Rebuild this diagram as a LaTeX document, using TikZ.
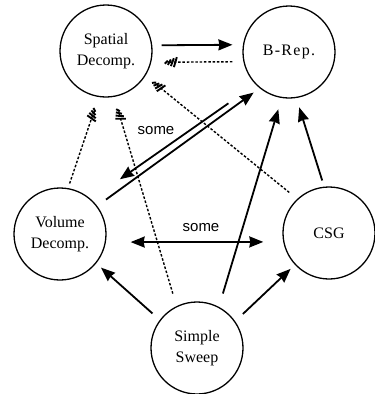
\documentclass[tikz,border=0pt]{standalone}
\usepackage{fontspec}
\setmainfont{Liberation Serif}
\newfontfamily\labelfont{Liberation Sans}
\newfontfamily\spacedfont[LetterSpace=8]{Liberation Serif}
\usetikzlibrary{arrows.meta,calc}

\pgfdeclarearrow{
  name = Hatch,
  setup code = {
    \pgfarrowssettipend{0pt}
    \pgfarrowssetlineend{-4pt}
    \pgfarrowssetbackend{-13pt}
    \pgfarrowshullpoint{0pt}{0pt}
    \pgfarrowshullpoint{-13pt}{6pt}
    \pgfarrowshullpoint{-13pt}{-6pt}
  },
  drawing code = {
    \pgfsetdash{}{0pt}
    \pgfsetlinewidth{1.9pt}
    \pgfsetbuttcap
    \pgfpathmoveto{\pgfpoint{-0.3pt}{1.5pt}}\pgfpathlineto{\pgfpoint{-3.3pt}{-1.5pt}}
    \pgfpathmoveto{\pgfpoint{-3.3pt}{2.7pt}}\pgfpathlineto{\pgfpoint{-6.3pt}{-2.7pt}}
    \pgfpathmoveto{\pgfpoint{-6.3pt}{3.9pt}}\pgfpathlineto{\pgfpoint{-9.3pt}{-3.9pt}}
    \pgfpathmoveto{\pgfpoint{-9.3pt}{5.0pt}}\pgfpathlineto{\pgfpoint{-12.3pt}{-5.0pt}}
    \pgfusepathqstroke
  }
}

\begin{document}
\begin{tikzpicture}[x=1pt,y=-1pt,
  state/.style={circle,draw,line width=1.3pt,minimum size=92pt,inner sep=0pt,
    align=center,font=\fontsize{16}{21}\selectfont},
  solidarr/.style={line width=1.8pt,-{Stealth[length=14pt,width=11pt,inset=1pt]}},
  bothsolid/.style={line width=1.8pt,{Stealth[length=14pt,width=11pt,inset=1pt]}-{Stealth[length=14pt,width=11pt,inset=1pt]}},
  hatcharr/.style={line width=1.4pt,dash pattern=on 2.5pt off 1.8pt,-{Hatch}},
  lbl/.style={font=\labelfont\fontsize{15}{17}\selectfont}]
\useasboundingbox (0,0) rectangle (375,394);

\node[state] (sp)  at (106,51)  {Spatial\\Decomp.};
\node[state] (br)  at (289,52)  {\spacedfont B-Rep.};
\node[state] (vd)  at (60,234)  {Volume\\Decomp.};
\node[state] (csg) at (329,233) {CSG};
\node[state] (ss)  at (197,348) {Simple\\Sweep};

\draw[solidarr, shorten <=9.4pt, shorten >=10.5pt] (sp.7.5) -- (br.171.3);
\draw[hatcharr, shorten <=11.1pt, shorten >=13.3pt] (br.192.5) -- (sp.346.2);
\draw[hatcharr, shorten <=10.2pt, shorten >=9.2pt] (csg.133.5) -- (sp.328.3);
\draw[hatcharr, shorten <=4.8pt, shorten >=11.7pt] (vd.80) -- (sp.261);
\draw[hatcharr, shorten <=13pt, shorten >=12pt] (ss.116.1) -- (sp.280.9);
\draw[solidarr, shorten <=33pt, shorten >=35pt] (br.224.3) -- (vd.48.2);
\draw[solidarr, shorten <=10.8pt, shorten >=7.4pt] (vd.37.3) -- (br.231.8);
\draw[bothsolid, shorten <=24.7pt, shorten >=19.9pt] (vd.350.2) -- (csg.191.5);
\draw[solidarr, shorten <=9.8pt, shorten >=6.4pt] (ss.143.7) -- (vd.321.8);
\draw[solidarr, shorten <=10.6pt, shorten >=5.9pt] (ss.35.7) -- (csg.223.4);
\draw[solidarr, shorten <=13.9pt, shorten >=11.7pt] (ss.62.2) -- (br.261);
\draw[solidarr, shorten <=6.4pt, shorten >=9.7pt] (csg.96.7) -- (br.279.3);

\node[lbl] (some1) at (156,131) {some};
\node[lbl] (some2) at (201,228) {some};
\end{tikzpicture}
\end{document}
